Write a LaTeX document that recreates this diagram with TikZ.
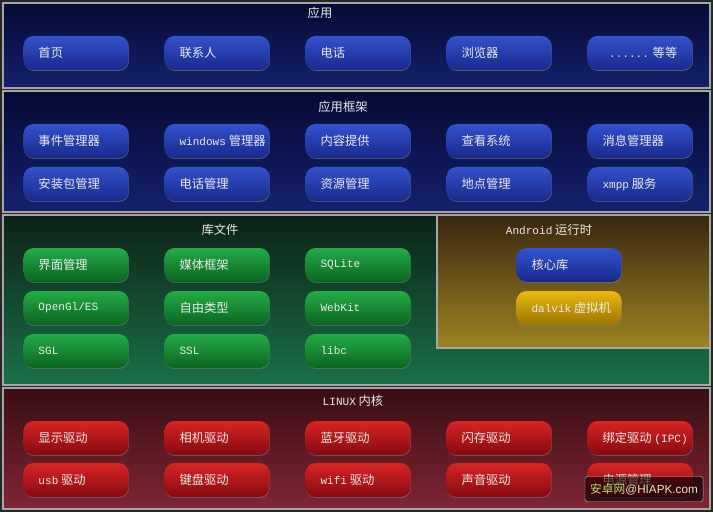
\documentclass[tikz,border=0pt]{standalone}
\usepackage{fontspec}
\setmainfont{Noto Sans CJK SC}
\newfontfamily\lat[Scale=0.9]{Liberation Mono}
\newfontfamily\wmfont{Liberation Sans}
\usetikzlibrary{shadows}

\definecolor{navytop}{HTML}{050A34}
\definecolor{navybot}{HTML}{15216C}
\definecolor{btnbluetop}{HTML}{3352CC}
\definecolor{btnbluebot}{HTML}{1A288C}
\definecolor{greentop}{HTML}{0B2216}
\definecolor{greenbot}{HTML}{1B7049}
\definecolor{btngreentop}{HTML}{24AC47}
\definecolor{btngreenbot}{HTML}{0A6420}
\definecolor{olivetop}{HTML}{38260F}
\definecolor{olivebot}{HTML}{9E8424}
\definecolor{btngoldtop}{HTML}{EAB812}
\definecolor{btngoldbot}{HTML}{9C7400}
\definecolor{redtop}{HTML}{380D12}
\definecolor{redbot}{HTML}{802636}
\definecolor{btnredtop}{HTML}{D82424}
\definecolor{btnredbot}{HTML}{840A10}
\definecolor{wmgreen}{HTML}{B4E07A}

\tikzset{
  panel/.style={draw=gray!70, line width=0.9pt},
  title/.style={text=white!92!black, font=\fontsize{10.5}{12}\selectfont, inner sep=0pt},
  btn/.style={rounded corners=0.3cm, minimum width=3.15cm, minimum height=1.02cm, inner sep=0pt,
    drop shadow={opacity=0.6, shadow xshift=0.4pt, shadow yshift=-0.8pt},
    label={[anchor=west, xshift=0.45cm, inner sep=0pt, text=white!92!black,
      font=\fontsize{10.5}{12}\selectfont]west:#1}},
  bluebtn/.style={btn={#1}, top color=btnbluetop, bottom color=btnbluebot},
  greenbtn/.style={btn={#1}, top color=btngreentop, bottom color=btngreenbot},
  goldbtn/.style={btn={#1}, top color=btngoldtop, bottom color=btngoldbot},
  redbtn/.style={btn={#1}, top color=btnredtop, bottom color=btnredbot},
}

\begin{document}
\begin{tikzpicture}[x=0.03cm, y=-0.03cm]
    % background and layers
    \fill[black!85] (0,0) rectangle (713,512);
    \draw[panel, top color=navytop, bottom color=navybot] (3,3) rectangle (710,88);
    \draw[panel, top color=navytop, bottom color=navybot] (3,91) rectangle (710,212);
    \draw[panel, top color=greentop, bottom color=greenbot] (3,215) rectangle (710,385);
    \draw[panel, top color=olivetop, bottom color=olivebot] (437,215) rectangle (710,348);
    \draw[panel, top color=redtop, bottom color=redbot] (3,388) rectangle (710,509);

    % titles
    \node[title] (tapp) at (320,13) {应用};
    \node[title] (tfw) at (343,107) {应用框架};
    \node[title] (tlib) at (220,230) {库文件};
    \node[title] (trt) at (549,230) {{\lat Android} 运行时};
    \node[title] (tlnx) at (353,401) {{\lat LINUX} 内核};

    % applications
    \node[bluebtn={首页}] (app1) at (76,53) {};
    \node[bluebtn={联系人}] (app2) at (217,53) {};
    \node[bluebtn={电话}] (app3) at (358,53) {};
    \node[bluebtn={浏览器}] (app4) at (499,53) {};
    \node[bluebtn={\hspace{0.2cm}{\lat ......} 等等}] (app5) at (640,53) {};

    % application framework
    \node[bluebtn={事件管理器}] (fw1) at (76,141) {};
    \node[bluebtn={{\lat windows} 管理器}] (fw2) at (217,141) {};
    \node[bluebtn={内容提供}] (fw3) at (358,141) {};
    \node[bluebtn={查看系统}] (fw4) at (499,141) {};
    \node[bluebtn={消息管理器}] (fw5) at (640,141) {};
    \node[bluebtn={安装包管理}] (fw6) at (76,184) {};
    \node[bluebtn={电话管理}] (fw7) at (217,184) {};
    \node[bluebtn={资源管理}] (fw8) at (358,184) {};
    \node[bluebtn={地点管理}] (fw9) at (499,184) {};
    \node[bluebtn={{\lat xmpp} 服务}] (fw10) at (640,184) {};

    % libraries
    \node[greenbtn={界面管理}] (lib1) at (76,265) {};
    \node[greenbtn={媒体框架}] (lib2) at (217,265) {};
    \node[greenbtn={\lat SQLite}] (lib3) at (358,265) {};
    \node[greenbtn={\lat OpenGl/ES}] (lib4) at (76,308) {};
    \node[greenbtn={自由类型}] (lib5) at (217,308) {};
    \node[greenbtn={\lat WebKit}] (lib6) at (358,308) {};
    \node[greenbtn={\lat SGL}] (lib7) at (76,351) {};
    \node[greenbtn={\lat SSL}] (lib8) at (217,351) {};
    \node[greenbtn={\lat libc}] (lib9) at (358,351) {};

    % android runtime
    \node[bluebtn={核心库}] (rt1) at (569,265) {};
    \node[goldbtn={{\lat dalvik} 虚拟机}] (rt2) at (569,308) {};

    % linux kernel
    \node[redbtn={显示驱动}] (drv1) at (76,438) {};
    \node[redbtn={相机驱动}] (drv2) at (217,438) {};
    \node[redbtn={蓝牙驱动}] (drv3) at (358,438) {};
    \node[redbtn={闪存驱动}] (drv4) at (499,438) {};
    \node[redbtn={绑定驱动 {\lat (IPC)}}] (drv5) at (640,438) {};
    \node[redbtn={{\lat usb} 驱动}] (drv6) at (76,480) {};
    \node[redbtn={键盘驱动}] (drv7) at (217,480) {};
    \node[redbtn={{\lat wifi} 驱动}] (drv8) at (358,480) {};
    \node[redbtn={声音驱动}] (drv9) at (499,480) {};
    \node[redbtn={电源管理}] (drv10) at (640,480) {};

    % watermark
    \node[fill=black, fill opacity=0.6, text opacity=1, draw=gray!60, rounded corners=2pt,
      minimum width=3.54cm, minimum height=0.75cm, inner sep=1pt,
      font=\fontsize{10}{12}\selectfont] (wmark) at (644,489)
      {{\color{wmgreen}安卓网}{\wmfont\color{wmgreen!50!white}@HIAPK.com}};
\end{tikzpicture}
\end{document}
